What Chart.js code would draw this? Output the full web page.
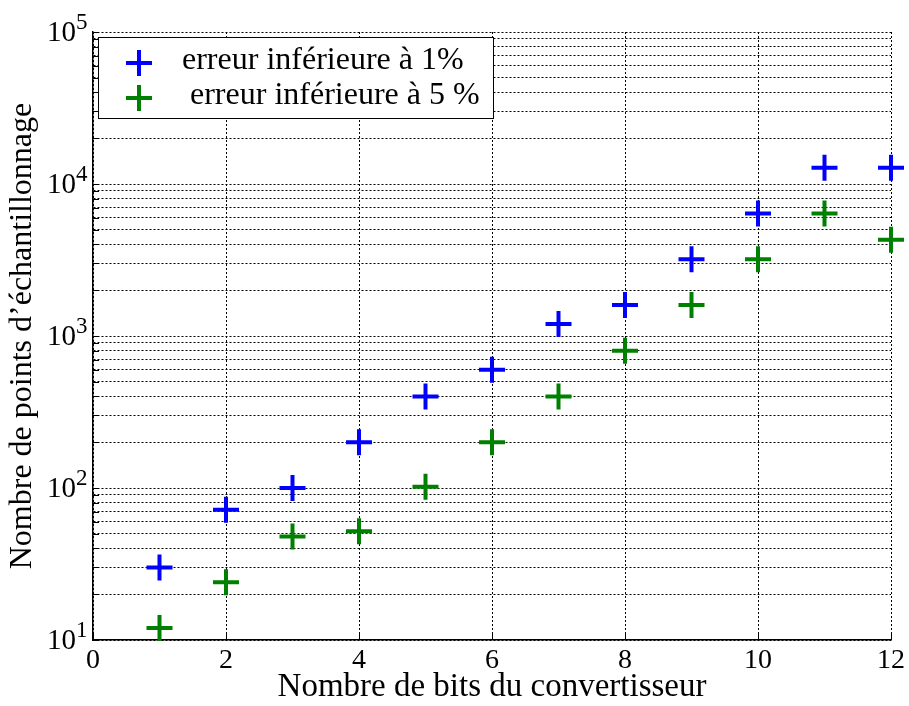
<!DOCTYPE html>
<html><head><meta charset="utf-8">
<script src="https://cdn.jsdelivr.net/npm/chart.js@4"></script>
<style>html,body{margin:0;padding:0;background:#fff}#wrap{width:909px;height:706px;position:relative}</style>
</head><body><div id="wrap"><canvas id="c" width="909" height="706"></canvas></div>
<script>
// ---- data ----
const bits = [1, 2, 3, 4, 5, 6, 7, 8, 9, 10, 11, 12];
const err1 = [30, 72, 100, 200, 400, 600, 1200, 1600, 3200, 6400, 12800, 12800];
const err5 = [12, 24, 48, 52, 102, 200, 400, 800, 1600, 3200, 6400, 4300];
const seriesLabels = ['erreur inférieure à 1%', ' erreur inférieure à 5 %'];
const seriesColors = ['#0000ff', '#008000'];
const xTicks = [0, 2, 4, 6, 8, 10, 12];
const yDecades = [10, 100, 1000, 10000, 100000];
const yMultipliers = [1, 2, 3, 4, 5, 6, 7, 8, 9];
const xTitle = 'Nombre de bits du convertisseur';
const yTitle = 'Nombre de points d’échantillonnage';

const yTicks = [];
yDecades.forEach(d => {
  if (d === yDecades[yDecades.length - 1]) { yTicks.push(d); return; }
  yMultipliers.forEach(m => yTicks.push(d * m));
});

const FONT = '"Liberation Serif", "Times New Roman", serif';

const decorPlugin = {
  id: 'decor',
  afterDraw(chart) {
    const ctx = chart.ctx;
    const xs = chart.scales.x, ys = chart.scales.y;
    const ca = chart.chartArea;
    ctx.save();
    // inward tick marks
    ctx.strokeStyle = '#000';
    ctx.lineWidth = 1;
    ctx.beginPath();
    yTicks.forEach(v => {
      const py = Math.round(ys.getPixelForValue(v)) + 0.5;
      ctx.moveTo(ca.left, py); ctx.lineTo(ca.left + 6, py);
    });
    xTicks.forEach(v => {
      const px = Math.round(xs.getPixelForValue(v)) + 0.5;
      ctx.moveTo(px, ca.bottom); ctx.lineTo(px, ca.bottom - 6);
    });
    ctx.stroke();
    // y tick labels 10^n
    ctx.fillStyle = '#000';
    yDecades.forEach(d => {
      const py = ys.getPixelForValue(d);
      const exp = String(Math.round(Math.log10(d)));
      ctx.font = '29px ' + FONT;
      ctx.textAlign = 'right';
      ctx.textBaseline = 'middle';
      ctx.fillText('10', 76, py + 1);
      ctx.font = '23px ' + FONT;
      ctx.textAlign = 'left';
      ctx.textBaseline = 'alphabetic';
      ctx.fillText(exp, 76, py - 3);
    });
    // legend box
    const bx = 98.5, by = 37.5, bw = 395, bh = 81;
    ctx.fillStyle = '#fff';
    ctx.fillRect(bx, by, bw, bh);
    ctx.strokeStyle = '#000';
    ctx.lineWidth = 1;
    ctx.strokeRect(bx, by, bw, bh);
    const rows = [63, 98];
    chart.data.datasets.forEach((ds, i) => {
      const cx = 139, cy = rows[i];
      ctx.strokeStyle = ds.borderColor;
      ctx.lineWidth = 4;
      ctx.beginPath();
      ctx.moveTo(cx - 13, cy); ctx.lineTo(cx + 13, cy);
      ctx.moveTo(cx, cy - 13); ctx.lineTo(cx, cy + 13);
      ctx.stroke();
      ctx.fillStyle = '#000';
      ctx.font = '32px ' + FONT;
      ctx.textAlign = 'left';
      ctx.textBaseline = 'alphabetic';
      ctx.fillText(ds.label, 182, cy + 6);
    });
    ctx.restore();
  }
};

new Chart(document.getElementById('c'), {
  type: 'scatter',
  data: {
    datasets: [
      { label: seriesLabels[0], data: bits.map((b, i) => ({ x: b, y: err1[i] })),
        borderColor: seriesColors[0], backgroundColor: seriesColors[0], clip: false,
        pointStyle: 'cross', pointRadius: 13, pointHoverRadius: 13, borderWidth: 4, pointBorderWidth: 4 },
      { label: seriesLabels[1], data: bits.map((b, i) => ({ x: b, y: err5[i] })),
        borderColor: seriesColors[1], backgroundColor: seriesColors[1], clip: false,
        pointStyle: 'cross', pointRadius: 13, pointHoverRadius: 13, borderWidth: 4, pointBorderWidth: 4 }
    ]
  },
  options: {
    responsive: false,
    animation: false,
    devicePixelRatio: 1,
    layout: { padding: { left: 0, top: 32, right: 18, bottom: 0 } },
    plugins: { legend: { display: false }, tooltip: { enabled: false } },
    scales: {
      x: {
        type: 'linear', min: 0, max: 12,
        afterBuildTicks: s => { s.ticks = xTicks.map(v => ({ value: v })); },
        afterFit: s => { s.height = 66; },
        grid: { color: '#000', lineWidth: 1, drawTicks: false },
        border: { display: true, color: '#000', width: 1.5, dash: [2, 2] },
        ticks: { color: '#000', font: { family: FONT, size: 28 }, padding: 4, maxRotation: 0 },
        title: { display: true, text: xTitle, color: '#000', font: { family: FONT, size: 33, lineHeight: 1.2 }, padding: { top: 0, bottom: -1 } }
      },
      y: {
        type: 'logarithmic', min: 10, max: 100000,
        afterBuildTicks: s => { s.ticks = yTicks.map(v => ({ value: v })); },
        afterFit: s => { s.width = 93; },
        grid: { color: '#000', lineWidth: 1, drawTicks: false },
        border: { display: true, color: '#000', width: 1.5, dash: [2, 2] },
        ticks: { display: false },
        title: { display: true, text: yTitle, color: '#000', font: { family: FONT, size: 32, lineHeight: 1.2 }, padding: { top: 3, bottom: 0 } }
      }
    }
  },
  plugins: [decorPlugin]
});
</script>
</body></html>
